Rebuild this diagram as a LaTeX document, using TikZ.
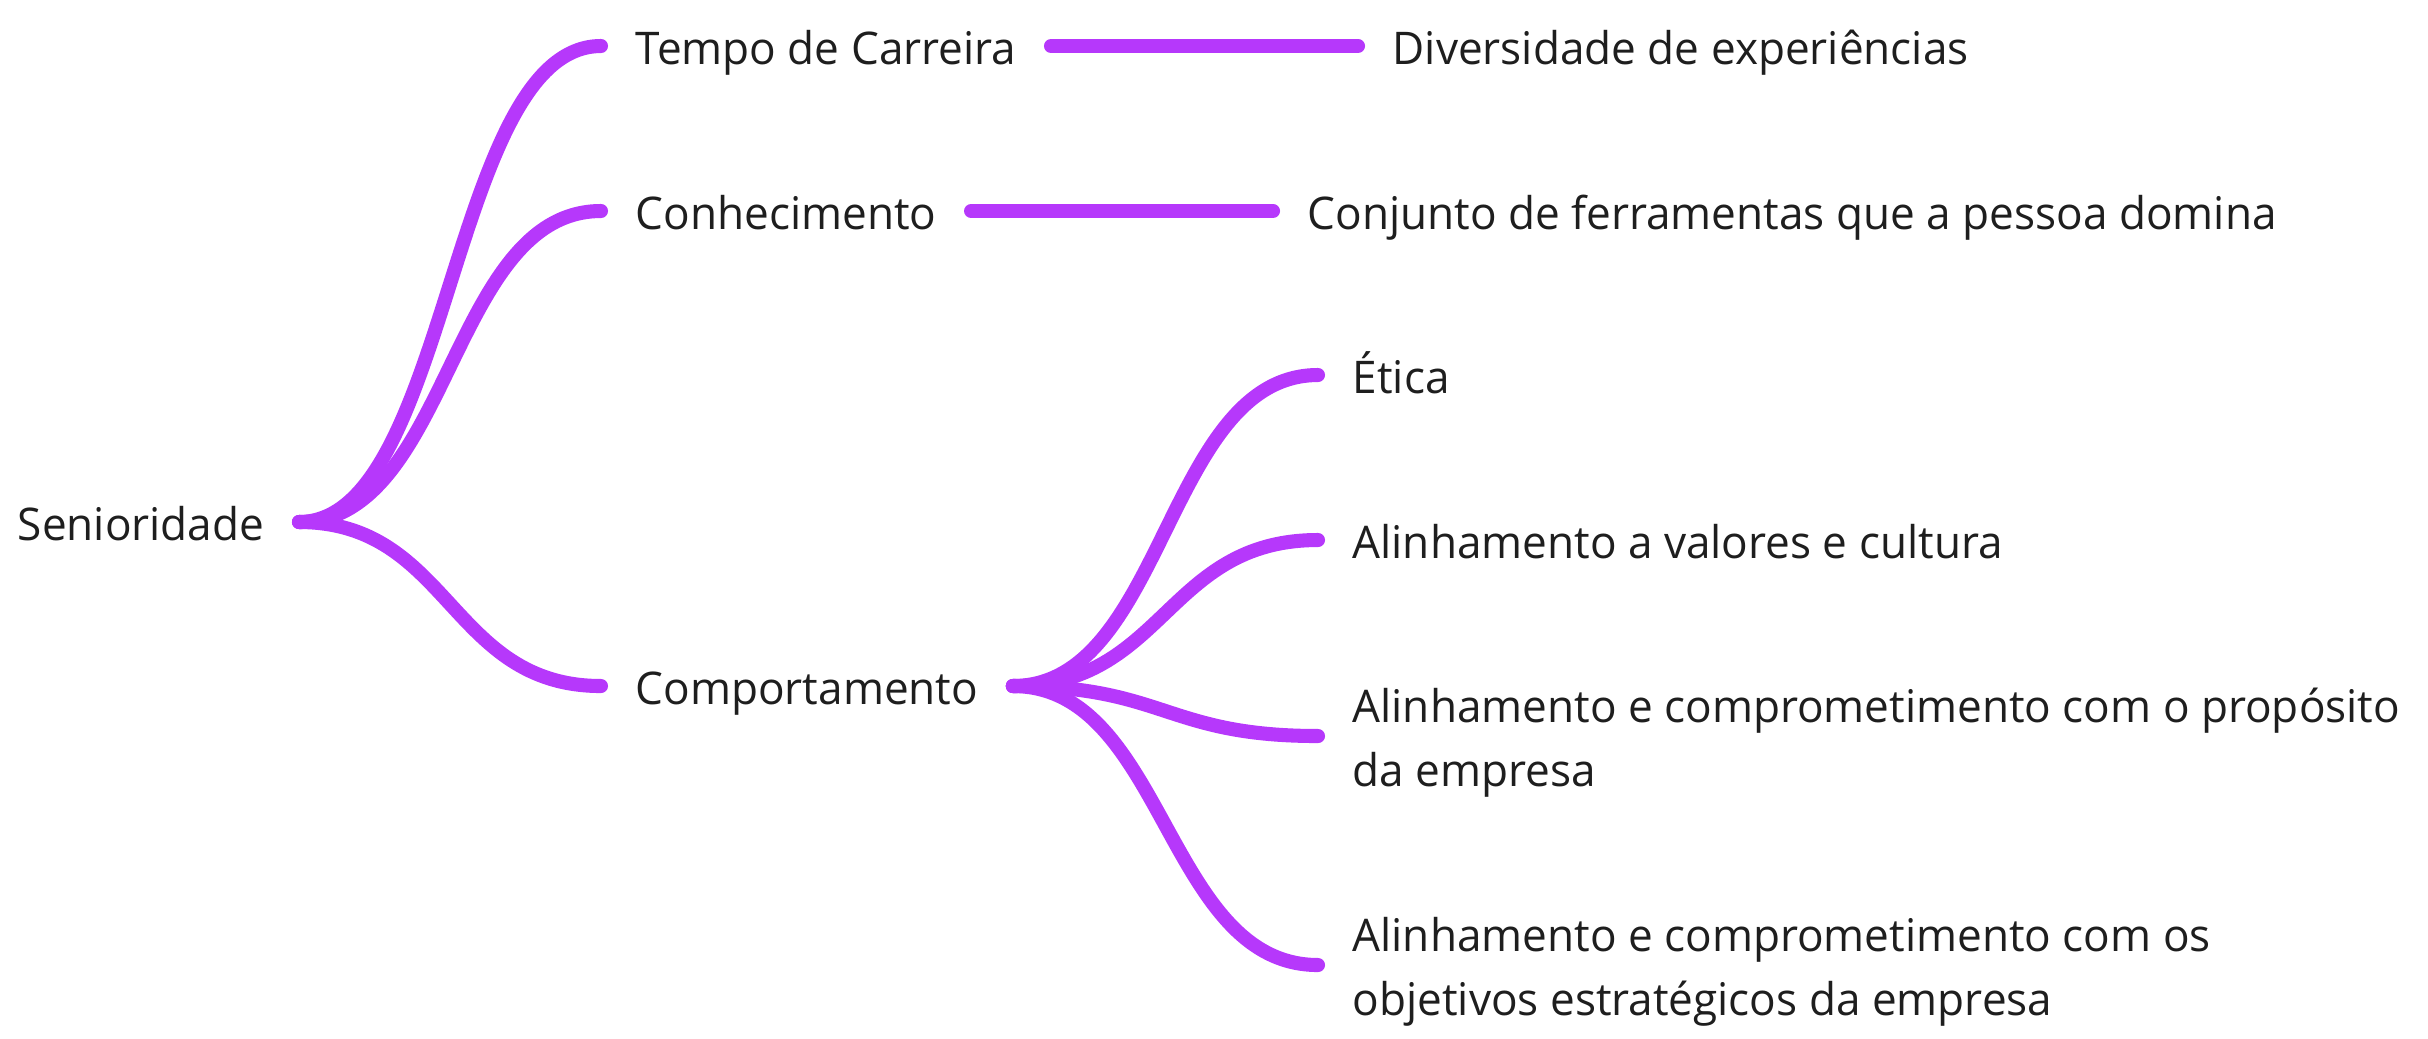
\documentclass[tikz,border=0pt]{standalone}
\usepackage{fontspec}
\setmainfont{Open Sans}[FakeStretch=0.98]
\usetikzlibrary{positioning}
\definecolor{mindpurple}{HTML}{B638FB}
\definecolor{darktext}{HTML}{1E1E1E}

\begin{document}
\begin{tikzpicture}[x=0.01cm,y=-0.01cm,
    topic/.style={anchor=west,inner xsep=0.34cm,inner ysep=0pt,text=darktext,
      font=\fontsize{12.8}{18.2}\selectfont,text height=10.3pt,text depth=0pt},
    twolines/.style={topic,align=left,text height=28.5pt},
    branch/.style={mindpurple,line width=4pt,line cap=round}]
  \useasboundingbox (0,0) rectangle (2428,1038);
  % the root
  \node[topic,anchor=east] (root) at (299,522) {Senioridade};
  % first level
  \node[topic] (tempo) at (601,46) {Tempo de Carreira};
  \node[topic] (conhec) at (601,211) {Conhecimento};
  \node[topic] (comport) at (601,686) {Comportamento};
  % second level
  \node[topic] (diversidade) at (1358,46) {Diversidade de experiências};
  \node[topic] (conjunto) at (1273,211) {Conjunto de ferramentas que a pessoa domina};
  \node[topic] (etica) at (1318,375) {Ética};
  \node[topic] (valores) at (1318,540) {Alinhamento a valores e cultura};
  \node[twolines] (proposito) at (1318,736) {Alinhamento e comprometimento com o propósito\\da empresa};
  \node[twolines] (objetivos) at (1318,965) {Alinhamento e comprometimento com os\\objetivos estratégicos da empresa};
  % curved branches
  \draw[branch] (root.east) .. controls +(151,0) and +(-151,0) .. (tempo.west);
  \draw[branch] (root.east) .. controls +(151,0) and +(-151,0) .. (conhec.west);
  \draw[branch] (root.east) .. controls +(151,0) and +(-151,0) .. (comport.west);
  \draw[branch] (comport.east) .. controls +(152,0) and +(-152,0) .. (etica.west);
  \draw[branch] (comport.east) .. controls +(152,0) and +(-152,0) .. (valores.west);
  \draw[branch] (comport.east) .. controls +(152,0) and +(-152,0) .. (proposito.west);
  \draw[branch] (comport.east) .. controls +(152,0) and +(-152,0) .. (objetivos.west);
  % straight ones
  \draw[branch] (tempo.east) -- (diversidade.west);
  \draw[branch] (conhec.east) -- (conjunto.west);
\end{tikzpicture}
\end{document}
